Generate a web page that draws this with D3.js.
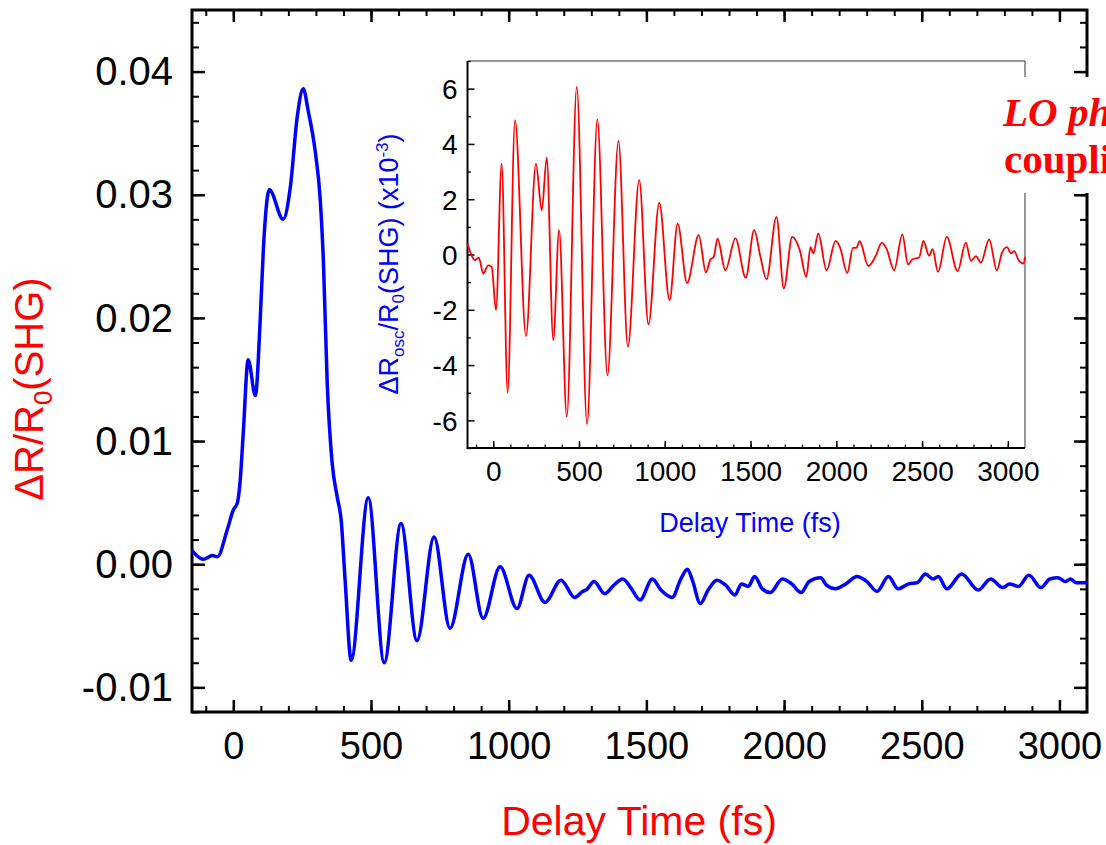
<!DOCTYPE html>
<html>
<head>
<meta charset="utf-8">
<script src="https://cdn.jsdelivr.net/npm/d3@7"></script>
<style>
  body { margin: 0; background: #fff; }
  svg { display: block; }
  text { font-family: "Liberation Sans", Arial, sans-serif; }
</style>
</head>
<body>
<div id="chart"></div>
<script>
// main trace: delta R / R0 (SHG)
const blueT = [-150, -109, -76, -58, -22, 0, 15, 25, 36, 54, 80, 98, 109, 131, 181, 207, 232, 254, 272, 297, 316, 327, 341, 359, 377, 392, 406, 428,
  490, 548, 609, 667, 729, 787, 853, 907, 969, 1030, 1074, 1132, 1190, 1240, 1269, 1281, 1310, 1349, 1382, 1414, 1446, 1477,
  1522, 1553, 1594, 1623, 1649, 1667, 1696, 1724, 1756, 1788, 1822, 1845, 1870, 1893, 1921, 1950, 1994, 2028, 2062, 2091,
  2133, 2154, 2186, 2224, 2265, 2300, 2338, 2379, 2414, 2452, 2484, 2513, 2541, 2560, 2591, 2645, 2705, 2750, 2794, 2819,
  2851, 2889, 2933, 2965, 2994, 3022, 3040, 3060, 3100];
const blueV = [0.0011, 0.0004, 0.0007, 0.0006, 0.0028, 0.0044, 0.0050, 0.0068, 0.0106, 0.0166, 0.0137, 0.0200, 0.0255, 0.0304, 0.0280, 0.0306, 0.0363, 0.0386, 0.0368, 0.0336, 0.0295, 0.0247, 0.0147, 0.0082, 0.0055, 0.0035, -0.0013, -0.0078,
  0.0054, -0.0080, 0.0033, -0.0062, 0.0022, -0.0052, 0.0008, -0.0044, -0.0002, -0.0036, -0.0009, -0.0031, -0.0013, -0.0027, -0.0022, -0.0021, -0.0014, -0.0024, -0.0017, -0.0012, -0.0020, -0.0029,
  -0.0012, -0.0021, -0.0027, -0.0013, -0.0004, -0.0013, -0.0032, -0.0021, -0.0013, -0.0017, -0.0025, -0.0016, -0.0018, -0.0010, -0.0020, -0.0023, -0.0012, -0.0016, -0.0023, -0.0014,
  -0.0011, -0.0017, -0.0020, -0.0016, -0.0010, -0.0014, -0.0022, -0.0010, -0.0020, -0.0016, -0.0015, -0.0008, -0.0012, -0.0010, -0.0020, -0.0008, -0.0021, -0.0012, -0.0019, -0.0016,
  -0.0018, -0.0009, -0.0019, -0.0012, -0.0011, -0.0014, -0.0012, -0.0015, -0.0015];

// inset trace: oscillatory part (x10^-3)
const redT = [-150, -126, -107, -84, -58, -29, -9, 16, 49, 84, 127, 191, 249, 283, 312, 350, 384, 429, 487, 547, 607, 666, 730, 785, 851, 905, 968,
  1028, 1075, 1130, 1198, 1240, 1266, 1285, 1308, 1353, 1412, 1472, 1521, 1558, 1593, 1651, 1694, 1743, 1787, 1825, 1850, 1866, 1895, 1943, 1996,
  2021, 2064, 2097, 2117, 2136, 2187, 2229, 2265, 2292, 2337, 2385, 2418, 2444, 2483, 2508, 2541, 2561, 2593, 2644, 2707, 2755, 2785, 2814, 2843,
  2891, 2936, 2966, 2995, 3018, 3037, 3063, 3092, 3100];
const redV = [0.40, -0.03, -0.20, -0.11, -0.69, -0.39, -0.45, -2.01, 3.29, -5.00, 4.86, -2.95, 3.29, 1.60, 3.50, -3.10, 0.88, -5.87, 6.06, -6.14, 4.89, -4.37, 4.11, -3.34, 2.69, -2.53, 1.87,
  -1.65, 1.12, -1.03, 0.70, -0.65, -0.18, -0.09, 0.57, -0.57, 0.58, -0.84, 0.88, -0.09, -0.90, 1.36, -1.23, 0.64, 0.16, -0.81, 0.27, 0.04, 0.76, -0.57, 0.49,
  0.27, -0.67, 0.24, 0.24, 0.48, -0.42, -0.06, 0.42, 0.22, -0.57, 0.73, -0.36, -0.17, -0.11, 0.49, -0.05, 0.19, -0.63, 0.64, -0.60, 0.43, -0.23, -0.06, -0.29,
  0.55, -0.57, 0.07, 0.27, 0.04, 0.12, -0.21, -0.33, -0.09];

const mainXTicks = [0, 500, 1000, 1500, 2000, 2500, 3000];
const mainYTicks = [-0.01, 0, 0.01, 0.02, 0.03, 0.04];
const insetYTicks = [-6, -4, -2, 0, 2, 4, 6];

const W = 1106, H = 845;
const svg = d3.select("#chart").append("svg").attr("width", W).attr("height", H);

// plain hyphen for negatives, like the original figure
const fmt2 = d => d3.format(".2f")(d).replace("−", "-");
const fmtInt = d => d3.format("d")(d).replace("−", "-");

// ---- main plot ----
const x = d3.scaleLinear().domain([-150, 3100]).range([192, 1087]);
const y = d3.scaleLinear().domain([-0.012, 0.045]).range([712, 10]);

const minorX = d3.range(-100, 3100, 100);
const minorY = d3.range(-12, 45, 2).map(d => d / 1000);

function styleAxis(g, w) {
  g.select(".domain").remove();
  g.selectAll("line").attr("stroke", "#000").attr("stroke-width", w);
}

const gm = svg.append("g");

gm.append("g").attr("transform", "translate(0,712)")
  .call(d3.axisBottom(x).tickValues(minorX).tickSize(-6).tickFormat(""))
  .call(g => styleAxis(g, 2));
gm.append("g").attr("transform", "translate(0,712)")
  .call(d3.axisBottom(x).tickValues(mainXTicks).tickSize(-12).tickPadding(47).tickFormat(fmtInt))
  .call(g => styleAxis(g, 2.5))
  .selectAll("text").attr("font-size", 38).attr("fill", "#000").attr("dy", 0);
gm.append("g").attr("transform", "translate(0,10)")
  .call(d3.axisTop(x).tickValues(minorX).tickSize(-6).tickFormat(""))
  .call(g => styleAxis(g, 2));
gm.append("g").attr("transform", "translate(0,10)")
  .call(d3.axisTop(x).tickValues(mainXTicks).tickSize(-12).tickFormat(""))
  .call(g => styleAxis(g, 2.5));

gm.append("g").attr("transform", "translate(192,0)")
  .call(d3.axisLeft(y).tickValues(minorY).tickSize(-7).tickFormat(""))
  .call(g => styleAxis(g, 2));
gm.append("g").attr("transform", "translate(192,0)")
  .call(d3.axisLeft(y).tickValues(mainYTicks).tickSize(-13).tickPadding(19).tickFormat(fmt2))
  .call(g => styleAxis(g, 2.5))
  .selectAll("text").attr("font-size", 40).attr("fill", "#000").attr("dy", "0.33em");
gm.append("g").attr("transform", "translate(1087,0)")
  .call(d3.axisRight(y).tickValues(minorY).tickSize(-7).tickFormat(""))
  .call(g => styleAxis(g, 2));
gm.append("g").attr("transform", "translate(1087,0)")
  .call(d3.axisRight(y).tickValues(mainYTicks).tickSize(-13).tickFormat(""))
  .call(g => styleAxis(g, 2.5));

gm.append("rect").attr("x", 192).attr("y", 10).attr("width", 1087 - 192).attr("height", 712 - 10)
  .attr("fill", "none").attr("stroke", "#000").attr("stroke-width", 3);

const blueData = blueT.map((t, i) => [t, blueV[i]]);
gm.append("path").datum(blueData)
  .attr("fill", "none").attr("stroke", "#0000ff").attr("stroke-width", 3.5)
  .attr("stroke-linejoin", "round")
  .attr("d", d3.line().x(d => x(d[0])).y(d => y(d[1])).curve(d3.curveMonotoneX));

// axis titles
const yt = gm.append("text").attr("transform", "translate(43,389) rotate(-90)")
  .attr("text-anchor", "middle").attr("font-size", 40).attr("fill", "#ff0000");
yt.append("tspan").text("ΔR/R");
yt.append("tspan").text("0").attr("font-size", 26).attr("dy", 9);
yt.append("tspan").text("(SHG)").attr("dy", -9);

gm.append("text").attr("x", 639).attr("y", 835).attr("text-anchor", "middle")
  .attr("font-size", 41).attr("fill", "#ff0000").text("Delay Time (fs)");

// ---- inset ----
const xi = d3.scaleLinear().domain([-150, 3100]).range([467.5, 1025]);
const yi = d3.scaleLinear().domain([-7, 7]).range([448, 61]);
const gi = svg.append("g");

gi.append("g").attr("transform", "translate(0,448)")
  .call(d3.axisBottom(xi).tickValues(minorX).tickSize(-3.5).tickFormat(""))
  .call(g => styleAxis(g, 1.3));
gi.append("g").attr("transform", "translate(0,448)")
  .call(d3.axisBottom(xi).tickValues(mainXTicks).tickSize(-7).tickPadding(33).tickFormat(fmtInt))
  .call(g => styleAxis(g, 1.5))
  .selectAll("text").attr("font-size", 28).attr("fill", "#000").attr("dy", 0);
gi.append("g").attr("transform", "translate(467.5,0)")
  .call(d3.axisLeft(yi).tickValues(d3.range(-7, 8, 2)).tickSize(-3.5).tickFormat(""))
  .call(g => styleAxis(g, 1.3));
gi.append("g").attr("transform", "translate(467.5,0)")
  .call(d3.axisLeft(yi).tickValues(insetYTicks).tickSize(-7).tickPadding(10).tickFormat(fmtInt))
  .call(g => styleAxis(g, 1.5))
  .selectAll("text").attr("font-size", 28).attr("fill", "#000").attr("dy", "0.35em");

// thin top / right frame lines, heavier left / bottom
gi.append("line").attr("x1", 467.5).attr("x2", 1025).attr("y1", 61).attr("y2", 61).attr("stroke", "#333").attr("stroke-width", 1);
gi.append("line").attr("x1", 1025).attr("x2", 1025).attr("y1", 61).attr("y2", 448).attr("stroke", "#333").attr("stroke-width", 1);
gi.append("line").attr("x1", 467.5).attr("x2", 467.5).attr("y1", 61).attr("y2", 449).attr("stroke", "#000").attr("stroke-width", 2);
gi.append("line").attr("x1", 467).attr("x2", 1025).attr("y1", 448).attr("y2", 448).attr("stroke", "#000").attr("stroke-width", 2);

const redData = redT.map((t, i) => [t, redV[i]]);
gi.append("path").datum(redData)
  .attr("fill", "none").attr("stroke", "#ff0000").attr("stroke-width", 1.8)
  .attr("stroke-linejoin", "round")
  .attr("d", d3.line().x(d => xi(d[0])).y(d => yi(d[1])).curve(d3.curveMonotoneX));

const yit = gi.append("text").attr("transform", "translate(398,264) rotate(-90)")
  .attr("text-anchor", "middle").attr("font-size", 27).attr("fill", "#0000ff");
yit.append("tspan").text("ΔR");
yit.append("tspan").text("osc").attr("font-size", 17).attr("dy", 6);
yit.append("tspan").text("/R").attr("dy", -6);
yit.append("tspan").text("0").attr("font-size", 17).attr("dy", 6);
yit.append("tspan").text("(SHG) (x10").attr("dy", -6);
yit.append("tspan").text("-3").attr("font-size", 17).attr("dy", -10);
yit.append("tspan").text(")").attr("dy", 10);

gi.append("text").attr("x", 750).attr("y", 532).attr("text-anchor", "middle")
  .attr("font-size", 27).attr("fill", "#0000ff").text("Delay Time (fs)");

// ---- annotation box (runs off the right edge, as in the original) ----
svg.append("rect").attr("x", 998).attr("y", 77).attr("width", 120).attr("height", 116).attr("fill", "#fff");
svg.append("text").attr("x", 1003).attr("y", 126)
  .style("font-family", "'Liberation Serif', 'Times New Roman', serif")
  .attr("font-size", 41).attr("font-weight", "bold").attr("font-style", "italic")
  .attr("fill", "#ff0000").text("LO phonon");
svg.append("text").attr("x", 1004).attr("y", 173)
  .style("font-family", "'Liberation Serif', 'Times New Roman', serif")
  .attr("font-size", 41).attr("font-weight", "bold")
  .attr("fill", "#ff0000").text("coupling");
</script>
</body>
</html>
